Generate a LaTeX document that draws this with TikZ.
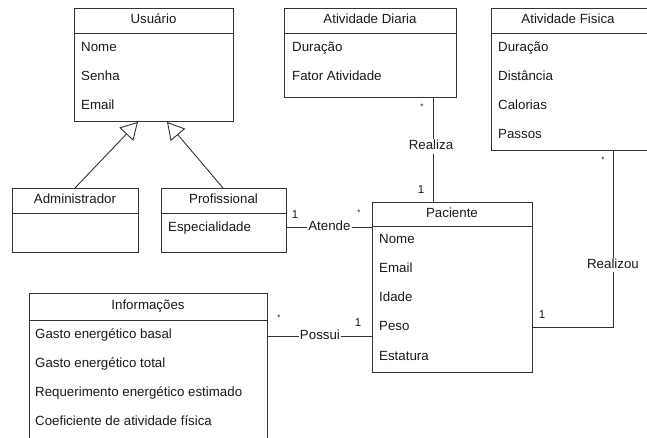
\documentclass[tikz,border=0pt]{standalone}
\usepackage{fontspec}
\setmainfont{Liberation Sans}
\usetikzlibrary{arrows.meta,calc}
\definecolor{linec}{HTML}{333333}
\definecolor{txtc}{HTML}{1A1A1A}
\begin{document}
\begin{tikzpicture}[x=1pt,y=-1pt,
  font=\fontsize{13.3}{16}\selectfont, text=txtc,
  box/.style={draw=linec, line width=0.9pt, inner sep=0pt, anchor=north west},
  ttl/.style={inner sep=0pt, text height=9.5pt, text depth=2.7pt},
  attr/.style={anchor=west, inner sep=0pt, text height=9.5pt, text depth=2.7pt},
  mult/.style={inner sep=0pt, font=\fontsize{11.5}{13}\selectfont},
  star/.style={inner sep=0pt, font=\fontsize{8}{10}\selectfont},
  assoc/.style={draw=linec, line width=0.9pt},
  lbl/.style={fill=white, inner sep=1pt, text height=9.5pt, text depth=2.7pt},
  gen/.style={draw=linec, line width=0.9pt, -{Triangle[open,length=17pt,width=19pt]}}]
\clip (0,0) rectangle (647,437);
\fill[white] (0,0) rectangle (647,437);

% Usuario
\node[box, minimum width=159pt, minimum height=113pt] (usu) at (74,8) {};
\draw[assoc] ([yshift=-25pt]usu.north west) -- ([yshift=-25pt]usu.north east);
\node[ttl] (usuT) at (153.5,20.5) {Usuário};
\node[attr] (usu1) at (81,48) {Nome};
\node[attr] (usu2) at (81,77) {Senha};
\node[attr] (usu3) at (81,106) {Email};

% Administrador
\node[box, minimum width=126pt, minimum height=64pt] (adm) at (12,188) {};
\draw[assoc] ([yshift=-25pt]adm.north west) -- ([yshift=-25pt]adm.north east);
\node[ttl] (admT) at (75,200.5) {Administrador};

% Profissional
\node[box, minimum width=125pt, minimum height=64pt] (pro) at (161,188) {};
\draw[assoc] ([yshift=-25pt]pro.north west) -- ([yshift=-25pt]pro.north east);
\node[ttl] (proT) at (223.5,200.5) {Profissional};
\node[attr] (pro1) at (168,228) {Especialidade};

% Atividade Diaria
\node[box, minimum width=172pt, minimum height=89pt] (ad) at (284,8) {};
\draw[assoc] ([yshift=-25pt]ad.north west) -- ([yshift=-25pt]ad.north east);
\node[ttl] (adT) at (370,20.5) {Atividade Diaria};
\node[attr] (ad1) at (292,48) {Duração};
\node[attr] (ad2) at (292,77) {Fator Atividade};

% Atividade Fisica
\node[box, minimum width=165pt, minimum height=142pt] (af) at (491,8) {};
\draw[assoc] ([yshift=-25pt]af.north west) -- ([yshift=-25pt]af.north east);
\node[ttl] (afT) at (568,20.5) {Atividade Fisica};
\node[attr] (af1) at (498,48) {Duração};
\node[attr] (af2) at (498,77) {Distância};
\node[attr] (af3) at (498,106) {Calorias};
\node[attr] (af4) at (498,135) {Passos};

% Paciente
\node[box, minimum width=160pt, minimum height=170pt] (pac) at (372,202) {};
\draw[assoc] ([yshift=-24pt]pac.north west) -- ([yshift=-24pt]pac.north east);
\node[ttl] (pacT) at (452,214) {Paciente};
\node[attr] (pac1) at (379,240) {Nome};
\node[attr] (pac2) at (379,269) {Email};
\node[attr] (pac3) at (379,298) {Idade};
\node[attr] (pac4) at (379,327) {Peso};
\node[attr] (pac5) at (379,357) {Estatura};

% Informacoes
\node[box, minimum width=238pt, minimum height=170pt] (inf) at (29,293) {};
\draw[assoc] ([yshift=-27pt]inf.north west) -- ([yshift=-27pt]inf.north east);
\node[ttl] (infT) at (148,306.5) {Informações};
\node[attr] (inf1) at (35,335) {Gasto energético basal};
\node[attr] (inf2) at (35,364) {Gasto energético total};
\node[attr] (inf3) at (35,393) {Requerimento energético estimado};
\node[attr] (inf4) at (35,422) {Coeficiente de atividade física};

% Generalizations
\draw[gen] ([xshift=63pt]adm.north west) -- ([xshift=64pt]usu.south west);
\draw[gen] ([xshift=62pt]pro.north west) -- ([xshift=93pt]usu.south west);

% Associations
\draw[assoc] ([yshift=-39pt]pro.north east) -- node[lbl] (atende) {Atende} ([yshift=-25pt]pac.north west);
\draw[assoc] ([yshift=-43pt]inf.north east) -- node[lbl] (possui) {Possui} ([yshift=-134pt]pac.north west);
\draw[assoc] ([xshift=149pt]ad.south west) -- node[lbl, pos=0.467, xshift=-2pt] (realiza) {Realiza} ([xshift=61pt]pac.north west);
\draw[assoc] ([xshift=122pt]af.south west) |- node[lbl, pos=0.325] (realizou) {Realizou} ([yshift=-125pt]pac.north east);

% Multiplicities
\node[star] (m1) at (422,107) {*};
\node[mult] (m2) at (421,190) {1};
\node[star] (m3) at (603,160) {*};
\node[mult] (m4) at (542,315) {1};
\node[mult] (m5) at (295,215) {1};
\node[star] (m6) at (359,213) {*};
\node[star] (m7) at (279,318) {*};
\node[mult] (m8) at (358,323) {1};
\end{tikzpicture}
\end{document}
